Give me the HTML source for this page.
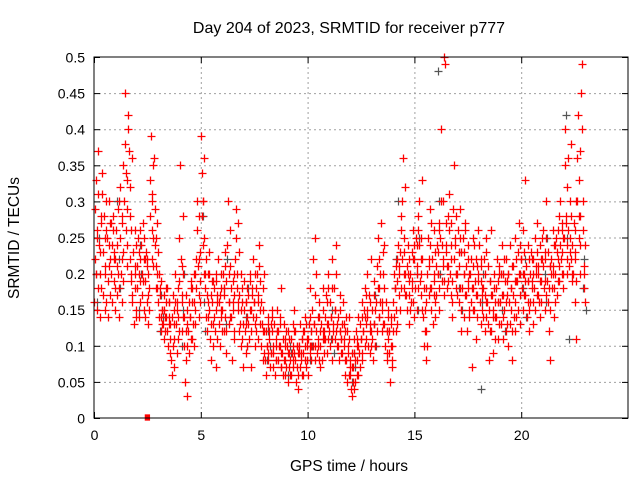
<!DOCTYPE html>
<html><head><meta charset="utf-8"><style>
body{margin:0;background:#fff}
svg{display:block;font-family:"Liberation Sans",sans-serif}
</style></head><body>
<svg id="chart" width="640" height="480">
<text x="349" y="33" font-size="16" text-anchor="middle">Day 204 of 2023, SRMTID for receiver p777</text>
<text x="349" y="471" font-size="15.5" text-anchor="middle">GPS time / hours</text>
<text x="19" y="238" font-size="15.5" text-anchor="middle" transform="rotate(-90 19 238)">SRMTID / TECUs</text>
<g id="grid"></g>
<g id="ticks"></g>
<g id="gray" stroke="#555" stroke-width="1.2" fill="none"></g>
<g id="red" stroke="#f00" stroke-width="1.3" fill="none"></g>
<rect x="94" y="57" width="534" height="361" fill="none" stroke="#000" stroke-width="1"></rect>
</svg>
<script>
const xTicks=[0,5,10,15,20];
const yTicks=[0,0.05,0.1,0.15,0.2,0.25,0.3,0.35,0.4,0.45,0.5];
const yTickLabels=["0","0.05","0.1","0.15","0.2","0.25","0.3","0.35","0.4","0.45","0.5"];
const redRows=[
[0.0,.16,.22,.29,.33,.25,.18],[0.2,.37,.24,.14,.2,.27,.31],[0.4,.17,.23,.28,.15,.21,.26],[0.6,.25,.19,.14,.3,.22,.27],[0.8,.2,.24,.16,.28,.23,.18],
[1.0,.22,.26,.17,.21,.29,.14],[1.2,.25,.32,.2,.16,.27,.23],[1.4,.3,.45,.38,.26,.21,.33],[1.6,.42,.37,.28,.22,.19,.36],[1.8,.17,.23,.13,.2,.26,.15],
[2.0,.21,.18,.25,.14,.22,.19],[2.2,.24,.17,.2,.27,.15,.22],[2.4,.19,.23,.16,.21,.13,.18],[2.6,.28,.33,.39,.22,.3,.25],[2.8,.36,.29,.24,.18,.2,.27],
[3.0,.16,.2,.14,.18,.12,.15],[3.2,.15,.13,.17,.11,.14,.16],[3.4,.12,.18,.1,.14,.16,.13],[3.6,.08,.14,.06,.17,.11,.15],[3.8,.2,.13,.09,.15,.18,.12],
[4.0,.25,.35,.22,.16,.12,.2],[4.2,.14,.1,.05,.17,.13,.03],[4.4,.12,.16,.09,.14,.19,.11],[4.6,.18,.13,.2,.1,.15,.22],[4.8,.26,.3,.21,.17,.14,.23],
[5.0,.39,.34,.28,.3,.2,.25],[5.2,.18,.14,.22,.12,.16,.2],[5.4,.15,.11,.17,.08,.19,.13],[5.6,.14,.18,.12,.2,.07,.16],[5.8,.22,.16,.13,.1,.18,.15],
[6.0,.15,.2,.12,.17,.23,.09],[6.2,.19,.24,.3,.16,.13,.21],[6.4,.14,.18,.08,.16,.12,.2],[6.6,.22,.29,.25,.18,.15,.12],[6.8,.17,.13,.2,.1,.16,.07],
[7.0,.15,.19,.12,.16,.09,.14],[7.2,.13,.17,.11,.2,.07,.15],[7.4,.18,.22,.14,.16,.1,.12],[7.6,.14,.2,.17,.11,.24,.15],[7.8,.1,.16,.13,.08,.18,.12],
[8.0,.08,.12,.06,.1,.14,.09],[8.2,.11,.07,.13,.09,.15,.1],[8.4,.09,.13,.06,.11,.08,.12],[8.6,.12,.08,.1,.14,.07,.18],[8.8,.09,.06,.11,.13,.08,.1],
[9.0,.07,.1,.05,.12,.09,.08],[9.2,.11,.06,.09,.13,.08,.15],[9.4,.08,.12,.05,.1,.04,.09],[9.6,.1,.07,.13,.09,.11,.06],[9.8,.09,.12,.08,.14,.07,.1],
[10.0,.11,.06,.13,.09,.18,.1],[10.2,.15,.22,.1,.13,.25,.08],[10.4,.12,.09,.14,.1,.16,.07],[10.6,.1,.13,.08,.11,.18,.12],[10.8,.14,.11,.17,.09,.13,.2],
[11.0,.12,.16,.1,.14,.22,.08],[11.2,.13,.18,.11,.15,.24,.1],[11.4,.1,.14,.08,.12,.17,.11],[11.6,.13,.09,.16,.11,.06,.12],[11.8,.08,.12,.05,.1,.14,.07],
[12.0,.06,.04,.09,.03,.07,.11],[12.2,.05,.08,.12,.06,.1,.14],[12.4,.09,.13,.07,.11,.16,.08],[12.6,.12,.15,.1,.18,.13,.2],[12.8,.14,.1,.17,.12,.09,.22],
[13.0,.11,.15,.08,.13,.19,.1],[13.2,.16,.21,.12,.25,.14,.18],[13.4,.2,.27,.15,.12,.23,.18],[13.6,.13,.1,.16,.08,.12,.15],[13.8,.09,.12,.05,.14,.1,.07],
[14.0,.16,.2,.14,.18,.12,.22],[14.2,.19,.24,.17,.21,.15,.28],[14.4,.22,.3,.36,.18,.25,.2],[14.6,.17,.21,.15,.24,.19,.13],[14.8,.2,.16,.23,.18,.26,.14],
[15.0,.22,.18,.25,.15,.2,.28],[15.2,.24,.3,.19,.22,.17,.33],[15.4,.14,.1,.18,.12,.08,.16],[15.6,.2,.25,.17,.22,.29,.15],[15.8,.18,.22,.13,.26,.19,.16],
[16.0,.21,.17,.24,.2,.15,.27],[16.2,.25,.4,.3,.19,.22,.17],[16.4,.5,.49,.27,.23,.18,.21],[16.6,.26,.31,.2,.24,.17,.14],[16.8,.29,.35,.22,.25,.18,.2],
[17.0,.2,.26,.16,.23,.29,.12],[17.2,.23,.18,.25,.14,.2,.27],[17.4,.17,.21,.12,.19,.24,.15],[17.6,.2,.16,.22,.07,.18,.25],[17.8,.15,.19,.11,.22,.17,.26],
[18.0,.2,.24,.16,.13,.21,.18],[18.2,.18,.14,.22,.12,.25,.16],[18.4,.16,.21,.13,.08,.19,.26],[18.6,.12,.17,.09,.15,.2,.14],[18.8,.18,.14,.22,.11,.16,.2],
[19.0,.16,.2,.13,.24,.17,.11],[19.2,.15,.19,.12,.22,.17,.1],[19.4,.2,.16,.24,.13,.18,.08],[19.6,.17,.21,.14,.25,.12,.19],[19.8,.19,.23,.15,.27,.2,.13],
[20.0,.22,.18,.26,.15,.2,.33],[20.2,.17,.21,.14,.24,.19,.12],[20.4,.2,.16,.23,.18,.13,.22],[20.6,.18,.25,.15,.21,.27,.17],[20.8,.2,.16,.24,.14,.19,.22],
[21.0,.21,.26,.18,.23,.15,.3],[21.2,.19,.23,.16,.12,.21,.08],[21.4,.22,.18,.26,.2,.14,.24],[21.6,.2,.25,.17,.23,.19,.28],[21.8,.24,.3,.22,.26,.2,.18],
[22.0,.25,.35,.4,.28,.22,.2],[22.2,.26,.21,.3,.23,.38,.19],[22.4,.24,.2,.27,.16,.22,.11],[22.6,.3,.36,.42,.25,.2,.28],[22.8,.45,.49,.4,.3,.2,.16]
];
const redRowsB=[
[0.1,.2,.26,.15,.31],[0.3,.23,.18,.28,.34],[0.5,.2,.25,.16,.3],[0.7,.24,.21,.17,.27],[0.9,.26,.19,.22,.15],
[1.1,.24,.2,.3,.18],[1.3,.28,.22,.35,.19],[1.5,.34,.29,.24,.4],[1.7,.32,.26,.2,.16],[1.9,.21,.18,.24,.14],
[2.1,.2,.23,.16,.26],[2.3,.19,.22,.25,.14],[2.5,.22,.17,.2,.15],[2.7,.31,.26,.21,.35],[2.9,.25,.21,.18,.23],
[3.1,.17,.14,.19,.13],[3.3,.15,.12,.18,.14],[3.5,.13,.16,.09,.11],[3.7,.1,.13,.07,.16],[3.9,.16,.11,.14,.19],
[4.1,.21,.17,.28,.14],[4.3,.12,.08,.15,.1],[4.5,.14,.18,.11,.16],[4.7,.16,.2,.13,.18],[4.9,.22,.28,.19,.16],
[5.1,.3,.24,.36,.2],[5.3,.17,.2,.14,.23],[5.5,.13,.16,.1,.19],[5.7,.15,.19,.11,.17],[5.9,.17,.2,.14,.12],
[6.1,.18,.14,.21,.12],[6.3,.2,.16,.26,.14],[6.5,.15,.19,.11,.17],[6.7,.2,.27,.16,.23],[6.9,.15,.11,.18,.13],
[7.1,.16,.13,.18,.1],[7.3,.15,.19,.12,.17],[7.5,.16,.2,.13,.18],[7.7,.16,.21,.13,.19],[7.9,.12,.15,.09,.2],
[8.1,.1,.13,.08,.12],[8.3,.09,.12,.14,.07],[8.5,.1,.08,.12,.15],[8.7,.1,.13,.07,.09],[8.9,.08,.11,.06,.12],
[9.1,.09,.07,.11,.06],[9.3,.1,.07,.12,.09],[9.5,.07,.1,.06,.09],[9.7,.08,.11,.06,.12],[9.9,.1,.13,.08,.11],
[10.1,.1,.14,.08,.12],[10.3,.13,.17,.1,.2],[10.5,.11,.14,.08,.12],[10.7,.12,.15,.09,.11],[10.9,.13,.16,.11,.18],
[11.1,.14,.11,.18,.12],[11.3,.15,.2,.12,.13],[11.5,.12,.15,.09,.11],[11.7,.1,.13,.08,.14],[11.9,.09,.06,.11,.08],
[12.1,.07,.05,.09,.04],[12.3,.08,.11,.06,.1],[12.5,.11,.14,.09,.12],[12.7,.14,.17,.11,.15],[12.9,.13,.16,.1,.12],
[13.1,.13,.17,.1,.15],[13.3,.18,.14,.22,.16],[13.5,.16,.2,.13,.24],[13.7,.12,.09,.14,.11],[13.9,.1,.13,.08,.12],
[14.1,.18,.15,.21,.13],[14.3,.2,.23,.18,.26],[14.5,.23,.2,.32,.17],[14.7,.2,.17,.22,.15],[14.9,.19,.22,.16,.24],
[15.1,.21,.24,.18,.26],[15.3,.2,.25,.22,.15],[15.5,.15,.12,.18,.1],[15.7,.21,.18,.24,.27],[15.9,.2,.17,.23,.14],
[16.1,.2,.23,.18,.26],[16.3,.24,.3,.21,.19],[16.5,.24,.21,.28,.19],[16.7,.22,.27,.19,.16],[16.9,.24,.2,.28,.17],
[17.1,.21,.25,.18,.15],[17.3,.2,.23,.17,.26],[17.5,.18,.22,.14,.2],[17.7,.18,.21,.15,.24],[17.9,.17,.21,.14,.19],
[18.1,.19,.22,.15,.17],[18.3,.17,.2,.14,.23],[18.5,.15,.19,.12,.17],[18.7,.14,.18,.11,.16],[18.9,.16,.19,.13,.21],
[19.1,.17,.2,.14,.22],[19.3,.16,.19,.13,.2],[19.5,.18,.15,.21,.12],[19.7,.19,.16,.22,.14],[19.9,.2,.24,.17,.22],
[20.1,.2,.17,.23,.19],[20.3,.19,.16,.22,.15],[20.5,.19,.22,.16,.2],[20.7,.2,.23,.17,.21],[20.9,.19,.22,.16,.25],
[21.1,.22,.19,.25,.17],[21.3,.18,.21,.15,.2],[21.5,.21,.24,.18,.16],[21.7,.22,.26,.19,.21],[21.9,.23,.27,.2,.25],
[22.1,.27,.32,.24,.36],[22.3,.25,.22,.28,.2],[22.5,.23,.26,.19,.3],[22.7,.33,.28,.24,.37],[22.9,.26,.21,.18,.24]
];
const grayRows=[
[0.1,.2,.16,.25],[1.1,.3,.22,.18],[2.1,.15,.24,.2],[3.1,.12,.17,.14],[4.1,.1,.15,.2],[5.1,.28,.16,.12],[6.1,.18,.13,.22],[7.1,.14,.1,.18],
[8.1,.08,.12,.1],[9.1,.06,.1,.09],[10.1,.08,.12,.1],[11.1,.11,.15,.09],[12.1,.05,.09,.07],[13.1,.13,.17,.1],[14.1,.18,.22,.3],[15.1,.2,.15,.25],
[16.1,.48,.3,.2],[17.1,.18,.23,.15],[18.1,.04,.16,.2],[19.1,.15,.2,.12],[20.1,.18,.22,.14],[21.1,.2,.16,.25],[22.1,.42,.25,.11],[22.9,.18,.22,.15]
];
const squareMarker=[2.5,0];
const NS="http://www.w3.org/2000/svg";
const X0=94,X1=628,Y0=418,Y1=57;
function xs(h){return X0+h/25*(X1-X0);}
function ys(v){return Y0-v/0.5*(Y0-Y1);}
const grid=document.getElementById('grid'),ticks=document.getElementById('ticks');
function line(p,x1,y1,x2,y2,attrs){const l=document.createElementNS(NS,'line');l.setAttribute('x1',x1);l.setAttribute('y1',y1);l.setAttribute('x2',x2);l.setAttribute('y2',y2);for(const k in attrs)l.setAttribute(k,attrs[k]);p.appendChild(l);return l;}
function text(p,x,y,s,anchor){const t=document.createElementNS(NS,'text');t.setAttribute('x',x);t.setAttribute('y',y);t.setAttribute('font-size','14');t.setAttribute('text-anchor',anchor);t.textContent=s;p.appendChild(t);return t;}
yTicks.forEach((v,i)=>{const y=ys(v)+0.5;
 if(i>0&&i<yTicks.length-1){const g=line(grid,X0,y,X1,y,{stroke:'#a0a0a0','stroke-dasharray':'2,3'});
 
 }
 line(ticks,X0,y,X0+6,y,{stroke:'#000'});line(ticks,X1-6,y,X1,y,{stroke:'#000'});
 const t=text(ticks,X0-9,y+5,yTickLabels[i],'end');
 
 
});
xTicks.forEach(h=>{const x=xs(h)+0.5;
 if(h>0){const g=line(grid,x,Y1,x,Y0,{stroke:'#a0a0a0','stroke-dasharray':'2,3'});
 
 }
 line(ticks,x,Y0,x,Y0-6,{stroke:'#000'});line(ticks,x,Y1,x,Y1+6,{stroke:'#000'});
 const t=text(ticks,x,Y0+22,String(h),'middle');
 
 
});
function plus(g,h,v,name){const p=document.createElementNS(NS,'path');const x=Math.round(xs(h))+0.5,y=Math.round(ys(v))+0.5;
 p.setAttribute('d','M'+(x-4)+' '+y+'h8M'+x+' '+(y-4)+'v8');
 
 
 g.appendChild(p);}
const grayG=document.getElementById('gray'),redG=document.getElementById('red');
grayRows.forEach(r=>{for(let k=1;k<r.length;k++)plus(grayG,r[0]+(k-1)*0.06,r[k],'gray-point');});
redRows.forEach(r=>{for(let k=1;k<r.length;k++)plus(redG,r[0]+(k-1)*0.033,r[k],'red-point');});
redRowsB.forEach(r=>{for(let k=1;k<r.length;k++)plus(redG,r[0]+(k-1)*0.025,r[k],'red-point');});
const sq=document.createElementNS(NS,'rect');
sq.setAttribute('x',xs(squareMarker[0])-2);sq.setAttribute('y',ys(squareMarker[1])-3);sq.setAttribute('width',4);sq.setAttribute('height',5);sq.setAttribute('fill','#f00');


redG.appendChild(sq);
</script>
</body></html>
